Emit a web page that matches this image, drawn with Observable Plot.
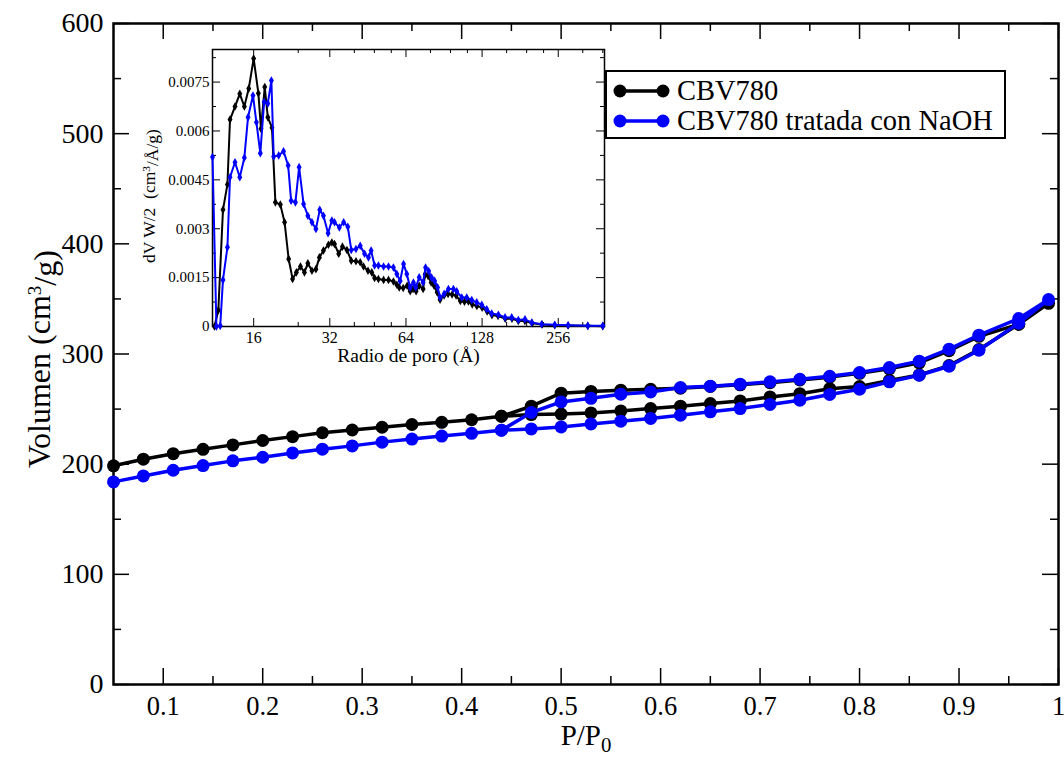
<!DOCTYPE html>
<html>
<head>
<meta charset="utf-8">
<script src="https://cdn.jsdelivr.net/npm/d3@7"></script>
<script src="https://cdn.jsdelivr.net/npm/@observablehq/plot@0.6"></script>
<style>
  body { margin: 0; background: #fff; }
  #wrap { position: relative; width: 1064px; height: 759px; font-family: "Liberation Serif", "Times New Roman", serif; }
  #inset { position: absolute; left: 150px; top: 40px; }
  #legend {
    position: absolute; left: 605px; top: 70px; width: 397px; height: 65px;
    border: 2px solid #000; background: #fff;
    font-family: "Liberation Serif", "Times New Roman", serif; font-size: 28.5px; color: #000;
  }
  #legend .row { position: absolute; left: 5px; height: 30px; display: flex; align-items: center; white-space: nowrap; }
  #legend svg { margin-right: 7px; }
</style>
</head>
<body>
<div id="wrap">
  <div id="main"></div>
  <div id="inset"></div>
  <div id="legend"></div>
</div>
<script>
// Nitrogen isotherms: relative pressure of adsorption and desorption points
const pAds = [0.05,0.08,0.11,0.14,0.17,0.20,0.23,0.26,0.29,0.32,0.35,0.38,0.41,0.44,0.47,0.50,0.53,0.56,0.59,0.62,0.65,0.68,0.71,0.74,0.77,0.80,0.83,0.86,0.89,0.92,0.96,0.99];
const pDes = [0.96,0.92,0.89,0.86,0.83,0.80,0.77,0.74,0.71,0.68,0.65,0.62,0.59,0.56,0.53,0.50,0.47,0.44];

// Adsorbed volume (cm3/g)
const cbvAds = [198.5,204.5,209.5,213.5,217.5,221.5,225,228.5,231,233.5,236,238,240.3,243.5,245,245.5,246.5,248.3,250.5,252.6,255,257.4,261,264,268.5,270.5,276,281,289.5,304,327,346];
const cbvDes = [327,316,303,292,286.5,282.5,279,276.5,274,272,270.5,269,268,267.2,266,264.4,252.6,243.5];
const naohAds = [183.9,189.3,194.5,198.7,203,206.3,210.2,213.6,216.6,220,222.8,225.5,228,230.8,232,233.8,236.5,239,241.5,244.5,247.5,250.5,254.2,258,263.3,268,274.7,280.7,288.9,303.4,328,349.4];
const naohDes = [332.2,317.1,304.4,293.5,287.7,283.2,279.8,277.1,274.7,272.6,270.8,269.6,265.6,263.5,259.8,256.5,246.9,230.8];

// Pore size distribution (inset)
const radioCBV = [11.2,11.6,12.1,12.6,12.9,13.5,14.1,14.7,15.3,16.0,16.7,17.1,17.7,18.2,18.9,19.5,20.4,21.2,22.0,22.8,23.6,24.5,25.4,26.2,27.2,28.2,29.1,30.2,31.6,32.6,33.4,34.7,35.9,37.4,38.9,40.6,42.2,43.5,45.3,46.9,48.1,49.8,52.2,54.6,57.1,58.9,60.2,62.4,64.7,66.5,68.3,70.2,72.2,74.8,76.2,78.3,80.5,82.7,85.0,87.3,90.6,93.9,97.4,101,105,109,113,117,122,128,134,140,148,158,168,178,189,202,221,248,280,335,384];
const dvCBV = [0,0.0005,0.00358,0.00436,0.00635,0.00675,0.00714,0.00675,0.0073,0.00822,0.00716,0.00607,0.00735,0.00642,0.0061,0.00381,0.00374,0.0032,0.00207,0.00146,0.00166,0.00184,0.00166,0.00194,0.00171,0.00176,0.00212,0.00233,0.00251,0.00258,0.00253,0.00223,0.00245,0.00235,0.00202,0.002,0.00197,0.00184,0.00171,0.00166,0.00149,0.00146,0.00143,0.00143,0.00138,0.00128,0.0012,0.00118,0.00125,0.00108,0.00115,0.00108,0.00125,0.00115,0.0016,0.00155,0.00135,0.00125,0.00105,0.00082,0.00095,0.001,0.00098,0.00095,0.00078,0.00076,0.00077,0.00068,0.00063,0.00058,0.00046,0.00035,0.00032,0.00024,0.00024,0.00017,0.00017,0.0001,0.00006,0.00004,0.00003,0.00002,0.00001];
const radioNaOH = [11.0,11.4,11.8,12.1,12.6,12.9,13.5,14.1,14.7,15.2,15.9,16.4,17.0,17.6,18.2,18.8,19.2,20.1,21.0,21.9,22.5,23.4,24.2,25.2,26.2,27.2,28.2,29.2,30.2,31.5,32.6,33.4,34.9,36.3,37.7,38.9,40.6,42.2,43.9,45.5,46.6,48.1,49.8,52.2,54.6,57.1,58.9,60.7,62.6,64.5,66.5,68.5,70.0,72.2,74.8,76.5,78.7,80.8,83.1,85.4,87.3,90.6,94.2,98.6,101.6,106.4,111.3,116.5,121.9,127.6,133.5,139.7,148.4,157.7,167.6,178,189.1,201,220,248,280,335,384];
const dvNaOH = [0.0052,0,0.00002,0.00143,0.00243,0.00458,0.00504,0.00458,0.00518,0.00642,0.00709,0.00627,0.00532,0.00689,0.00684,0.00755,0.00522,0.00525,0.00538,0.00494,0.00386,0.00381,0.00489,0.00376,0.0034,0.0032,0.00299,0.00358,0.0034,0.00286,0.00325,0.0032,0.00304,0.0032,0.00306,0.00235,0.00238,0.00248,0.00223,0.00212,0.00233,0.00187,0.00187,0.00184,0.00184,0.00181,0.00161,0.0014,0.00192,0.00161,0.0012,0.00135,0.0012,0.00151,0.00135,0.00181,0.0017,0.0015,0.0014,0.0012,0.00089,0.001,0.00115,0.00115,0.00108,0.00089,0.00089,0.00081,0.00074,0.00067,0.00053,0.0004,0.00036,0.00028,0.00028,0.0002,0.00022,0.00012,0.00007,0.00005,0.00004,0.00002,0.00002];

// Ticks
const xMajor = [0.1,0.2,0.3,0.4,0.5,0.6,0.7,0.8,0.9,1];
const xMinor = [0.15,0.25,0.35,0.45,0.55,0.65,0.75,0.85,0.95];
const yMajor = [0,100,200,300,400,500,600];
const yMinor = [50,150,250,350,450,550];
const rMajor = [16,32,64,128,256];
const rMinor = [24,40,48,56,80,96,112,160,192,224,320,384];
const dvMajor = [0,0.0015,0.003,0.0045,0.006,0.0075];
const dvMinor = [0.00075,0.00225,0.00375,0.00525,0.00675,0.00825];

const seriesNames = ["CBV780", "CBV780 tratada con NaOH"];
const seriesColors = ["#000000", "#0000ff"];

// Each isotherm is drawn as one path: adsorption up, then desorption back down
const isotherm = (ads, des) => [
  ...pAds.map((p, i) => ({p, v: ads[i]})),
  ...pDes.map((p, i) => ({p, v: des[i]}))
];
const cbvRows = isotherm(cbvAds, cbvDes);
const naohRows = isotherm(naohAds, naohDes);
const psd = (r, v) => r.map((d, i) => ({r: d, v: v[i]}));
const cbvPsd = psd(radioCBV, dvCBV);
const naohPsd = psd(radioNaOH, dvNaOH);

const serif = "Liberation Serif, Times New Roman, serif";

// Replace a plain title with a version carrying a raised/lowered tspan
function richTitle(svg, plain, html) {
  d3.select(svg).selectAll("text")
    .filter(function () { return this.textContent === plain; })
    .html(html);
}

// ---- Main chart ----
const W = 1064, H = 759, mL = 113, mR = 6, mT = 23, mB = 75;
const fw = W - mL - mR, fh = H - mT - mB;
const major = 16, minor = 8;

const main = Plot.plot({
  width: W, height: H,
  marginLeft: mL, marginRight: mR, marginTop: mT, marginBottom: mB,
  style: {fontFamily: serif, background: "#fff", color: "#000", overflow: "visible"},
  x: {domain: [0.05, 1.0]},
  y: {domain: [0, 600]},
  marks: [
    Plot.tickX(xMajor, {x: d => d, insetTop: fh - major, stroke: "#000", strokeWidth: 1.5}),
    Plot.tickX(xMajor, {x: d => d, insetBottom: fh - major, stroke: "#000", strokeWidth: 1.5}),
    Plot.tickX(xMinor, {x: d => d, insetTop: fh - minor, stroke: "#000", strokeWidth: 1.5}),
    Plot.tickX(xMinor, {x: d => d, insetBottom: fh - minor, stroke: "#000", strokeWidth: 1.5}),
    Plot.tickY(yMajor, {y: d => d, insetRight: fw - major, stroke: "#000", strokeWidth: 1.5}),
    Plot.tickY(yMajor, {y: d => d, insetLeft: fw - major, stroke: "#000", strokeWidth: 1.5}),
    Plot.tickY(yMinor, {y: d => d, insetRight: fw - minor, stroke: "#000", strokeWidth: 1.5}),
    Plot.tickY(yMinor, {y: d => d, insetLeft: fw - minor, stroke: "#000", strokeWidth: 1.5}),
    Plot.frame({stroke: "#000", strokeWidth: 2.5}),
    Plot.axisX(xMajor, {tickSize: 0, tickPadding: 12, fontSize: 26.5, tickFormat: d => String(d), label: null}),
    Plot.axisY(yMajor, {tickSize: 0, tickPadding: 10, fontSize: 28, tickFormat: d => String(d), label: null}),
    Plot.text(["P/P0"], {frameAnchor: "bottom", textAnchor: "middle", dy: 60, fontSize: 29}),
    Plot.text(["Volumen (cm3/g)"], {frameAnchor: "left", textAnchor: "middle", dx: -74, dy: 5, rotate: -90, fontSize: 32}),
    Plot.line(cbvRows, {x: "p", y: "v", stroke: seriesColors[0], strokeWidth: 3.5}),
    Plot.dot(cbvRows, {x: "p", y: "v", r: 6.5, fill: seriesColors[0], stroke: "none"}),
    Plot.line(naohRows, {x: "p", y: "v", stroke: seriesColors[1], strokeWidth: 3.5}),
    Plot.dot(naohRows, {x: "p", y: "v", r: 6.5, fill: seriesColors[1], stroke: "none"})
  ]
});
document.getElementById("main").appendChild(main);
richTitle(main, "P/P0", 'P/P<tspan dy="0.38em" font-size="0.72em">0</tspan>');
richTitle(main, "Volumen (cm3/g)", 'Volumen (cm<tspan dy="-0.45em" font-size="0.6em">3</tspan><tspan dy="0.45em">/g)</tspan>');

// ---- Inset: pore radius distribution ----
const iW = 458, iH = 341, iL = 62, iR = 4, iT = 9, iB = 55;
const ifw = iW - iL - iR, ifh = iH - iT - iB;
const iMajor = 8, iMinor = 4;
const inset = Plot.plot({
  width: iW, height: iH,
  marginLeft: iL, marginRight: iR, marginTop: iT, marginBottom: iB,
  style: {fontFamily: serif, background: "transparent", color: "#000", overflow: "visible"},
  x: {type: "log", base: 2, domain: [11, 390]},
  y: {domain: [0, 0.0085]},
  marks: [
    Plot.tickX(rMajor, {x: d => d, insetTop: ifh - iMajor, stroke: "#000", strokeWidth: 1}),
    Plot.tickX(rMajor, {x: d => d, insetBottom: ifh - iMajor, stroke: "#000", strokeWidth: 1}),
    Plot.tickX(rMinor, {x: d => d, insetTop: ifh - iMinor, stroke: "#000", strokeWidth: 1}),
    Plot.tickX(rMinor, {x: d => d, insetBottom: ifh - iMinor, stroke: "#000", strokeWidth: 1}),
    Plot.tickY(dvMajor, {y: d => d, insetRight: ifw - iMajor, stroke: "#000", strokeWidth: 1}),
    Plot.tickY(dvMajor, {y: d => d, insetLeft: ifw - iMajor, stroke: "#000", strokeWidth: 1}),
    Plot.tickY(dvMinor, {y: d => d, insetRight: ifw - iMinor, stroke: "#000", strokeWidth: 1}),
    Plot.tickY(dvMinor, {y: d => d, insetLeft: ifw - iMinor, stroke: "#000", strokeWidth: 1}),
    Plot.frame({stroke: "#000", strokeWidth: 1.5}),
    Plot.axisX(rMajor, {tickSize: 0, tickPadding: 5, fontSize: 16, tickFormat: d => String(d), label: null}),
    Plot.axisY(dvMajor, {tickSize: 0, tickPadding: 3, fontSize: 15, tickFormat: d => String(d), label: null}),
    Plot.text(["Radio de poro (Å)"], {frameAnchor: "bottom", textAnchor: "middle", dy: 35, fontSize: 19.5}),
    Plot.text(["dV W/2 (cm3/Å/g)"], {frameAnchor: "left", textAnchor: "middle", dx: -63, dy: 8, rotate: -90, fontSize: 17.5}),
    Plot.line(cbvPsd, {x: "r", y: "v", stroke: seriesColors[0], strokeWidth: 2}),
    Plot.dot(cbvPsd, {x: "r", y: "v", r: 2.6, symbol: "diamond", fill: seriesColors[0], stroke: "none"}),
    Plot.line(naohPsd, {x: "r", y: "v", stroke: seriesColors[1], strokeWidth: 2}),
    Plot.dot(naohPsd, {x: "r", y: "v", r: 2.6, symbol: "diamond", fill: seriesColors[1], stroke: "none"})
  ]
});
document.getElementById("inset").appendChild(inset);
richTitle(inset, "dV W/2 (cm3/Å/g)", 'dV W/2 &#160;(cm<tspan dy="-0.45em" font-size="0.65em">3</tspan><tspan dy="0.45em">/Å/g)</tspan>');

// ---- Legend ----
const legend = d3.select("#legend");
seriesNames.forEach((name, i) => {
  const row = legend.append("div").attr("class", "row").style("top", `${4 + i * 30}px`);
  const sw = row.append("svg").attr("width", 58).attr("height", 20);
  sw.append("line").attr("x1", 8).attr("x2", 51).attr("y1", 10).attr("y2", 10)
    .attr("stroke", seriesColors[i]).attr("stroke-width", 3.5);
  sw.append("circle").attr("cx", 8).attr("cy", 10).attr("r", 6.5).attr("fill", seriesColors[i]);
  sw.append("circle").attr("cx", 51).attr("cy", 10).attr("r", 6.5).attr("fill", seriesColors[i]);
  row.append("span").text(name);
});
</script>
</body>
</html>
